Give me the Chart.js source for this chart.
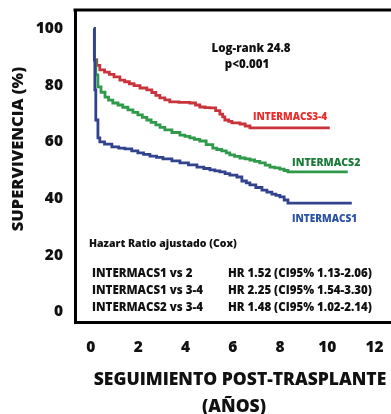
<!DOCTYPE html>
<html><head><meta charset="utf-8">
<script src="https://cdn.jsdelivr.net/npm/chart.js@4.4.0/dist/chart.umd.min.js"></script>
<style>html,body{margin:0;padding:0;background:#fff;overflow:hidden}</style>
</head><body>
<canvas id="c" width="391" height="414"></canvas>
<script>
// ---- data ----
const yearsI34 = [0, 0.02, 0.12, 0.25, 0.45, 0.65, 0.85, 1.10, 1.30, 1.50, 1.70, 1.95, 2.24, 2.45, 2.62, 2.79, 3.00, 3.21, 3.60, 4.06, 4.30, 4.48, 4.70, 4.91, 5.15, 5.33, 5.45, 5.54, 5.70, 5.84, 6.18, 6.40, 6.60, 9.98];
const survI34  = [100, 88.9, 87.0, 85.4, 84.6, 83.8, 82.9, 81.8, 81.2, 80.5, 79.8, 79.0, 78.3, 77.4, 76.4, 75.5, 74.8, 74.1, 73.9, 73.7, 73.0, 72.3, 72.1, 72.0, 71.0, 69.8, 68.8, 67.7, 67.2, 66.7, 66.3, 65.6, 64.9, 64.9];

const yearsI2 = [0, 0.02, 0.08, 0.17, 0.30, 0.47, 0.62, 0.80, 1.02, 1.22, 1.44, 1.65, 1.86, 2.05, 2.24, 2.42, 2.62, 2.80, 3.00, 3.30, 3.64, 3.85, 4.06, 4.25, 4.48, 4.75, 5.03, 5.20, 5.41, 5.60, 5.75, 5.95, 6.18, 6.40, 6.60, 6.80, 7.02, 7.25, 7.45, 7.65, 7.87, 8.05, 8.21, 10.74];
const survI2  = [100, 88.9, 83.6, 79.4, 77.5, 75.8, 74.7, 73.7, 73.0, 72.2, 71.3, 70.4, 69.5, 68.6, 67.7, 66.9, 66.0, 65.1, 64.2, 63.3, 62.4, 61.9, 61.4, 60.9, 60.3, 59.0, 57.8, 57.3, 56.8, 56.1, 55.4, 54.9, 54.3, 54.0, 53.6, 53.1, 52.6, 51.8, 51.1, 50.8, 50.4, 49.9, 49.4, 49.4];

const yearsI1 = [0, 0.02, 0.04, 0.08, 0.17, 0.25, 0.45, 0.76, 1.05, 1.31, 1.60, 1.86, 2.10, 2.37, 2.65, 2.92, 3.30, 3.64, 4.00, 4.36, 4.65, 4.91, 5.12, 5.33, 5.55, 5.75, 6.05, 6.26, 6.45, 6.60, 6.85, 7.11, 7.32, 7.53, 7.70, 7.87, 8.05, 8.21, 10.91];
const survI1  = [100, 88.9, 78.3, 67.7, 61.4, 60.0, 59.2, 58.2, 57.8, 57.5, 56.8, 56.1, 55.6, 55.0, 54.5, 54.0, 53.3, 52.6, 51.9, 51.1, 50.6, 50.1, 49.8, 49.4, 48.8, 48.3, 47.6, 46.2, 45.5, 44.8, 43.9, 43.0, 42.3, 41.6, 41.1, 40.6, 39.5, 38.4, 38.4];

const seriesNames = ['INTERMACS1', 'INTERMACS2', 'INTERMACS3-4'];
const xTicks = [0, 2, 4, 6, 8, 10, 12];
const yTicks = [0, 20, 40, 60, 80, 100];
const logRankText = ['Log-rank 24.8', 'p<0.001'];
const hrTitle = 'Hazart Ratio ajustado (Cox)';
const hrPairs = ['INTERMACS1 vs 2', 'INTERMACS1 vs 3-4', 'INTERMACS2 vs 3-4'];
const hrValues = ['HR 1.52 (CI95% 1.13-2.06)', 'HR 2.25 (CI95% 1.54-3.30)', 'HR 1.48 (CI95% 1.02-2.14)'];
const xTitle = ['SEGUIMIENTO POST-TRASPLANTE', '(AÑOS)'];
const yTitle = 'SUPERVIVENCIA (%)';

// ---- styles ----
const FONT = '"Open Sans", "DejaVu Sans", sans-serif';
const W = '800';
const lineColors = { i1: '#33428f', i2: '#2f9a4a', i34: '#c9343c' };
const labelColors = { i1: '#2c52a3', i2: '#1c7b3a', i34: '#ec2b2b' };

const toPts = (xs, ys) => xs.map((x, i) => ({ x, y: ys[i] }));

const annot = {
  id: 'annot',
  afterDraw(chart) {
    const { ctx, chartArea: a } = chart;
    ctx.save();
    // top frame line
    ctx.strokeStyle = '#000';
    ctx.lineWidth = 3;
    ctx.beginPath();
    ctx.moveTo(a.left - 1.5, a.top);
    ctx.lineTo(chart.width, a.top);
    ctx.stroke();

    ctx.textBaseline = 'middle';
    ctx.fillStyle = '#111';
    // log-rank
    ctx.textAlign = 'center';
    ctx.font = W + ' 11.5px ' + FONT;
    ctx.fillText(logRankText[0], 251, 49);
    ctx.fillText(logRankText[1], 247, 65);

    // series labels
    ctx.textAlign = 'left';
    ctx.font = W + ' 10px ' + FONT;
    ctx.fillStyle = labelColors.i34;
    ctx.fillText(seriesNames[2], 253, 117);
    ctx.font = W + ' 10.5px ' + FONT;
    ctx.fillStyle = labelColors.i2;
    ctx.fillText(seriesNames[1], 292, 163);
    ctx.font = W + ' 10px ' + FONT;
    ctx.fillStyle = labelColors.i1;
    ctx.fillText(seriesNames[0], 292, 219);

    // hazard ratio block
    ctx.fillStyle = '#111';
    ctx.font = W + ' 10.5px ' + FONT;
    ctx.fillText(hrTitle, 89, 244);
    ctx.font = W + ' 11.5px ' + FONT;
    const rowY = [274, 291, 308];
    hrPairs.forEach((p, i) => {
      ctx.fillText(p, 92, rowY[i]);
      ctx.fillText(hrValues[i], 228, rowY[i]);
    });

    // axis titles
    ctx.font = W + ' 17.5px ' + FONT;
    ctx.textAlign = 'center';
    ctx.fillText(xTitle[0], 240, 380);
    ctx.fillText(xTitle[1], 234, 407);
    ctx.font = W + ' 16.5px ' + FONT;
    ctx.save();
    ctx.translate(18, 149);
    ctx.rotate(-Math.PI / 2);
    ctx.fillText(yTitle, 0, 0);
    ctx.restore();
    ctx.restore();
  }
};

new Chart(document.getElementById('c'), {
  type: 'line',
  data: {
    datasets: [
      { label: seriesNames[0], data: toPts(yearsI1, survI1), borderColor: lineColors.i1 },
      { label: seriesNames[1], data: toPts(yearsI2, survI2), borderColor: lineColors.i2 },
      { label: seriesNames[2], data: toPts(yearsI34, survI34), borderColor: lineColors.i34 }
    ].map(d => Object.assign(d, { stepped: true, borderWidth: 2.8, pointRadius: 0, fill: false, tension: 0 }))
  },
  options: {
    responsive: false,
    animation: false,
    devicePixelRatio: 1,
    layout: { padding: { top: 10, left: 0, right: 0, bottom: 0 } },
    plugins: { legend: { display: false }, tooltip: { enabled: false } },
    scales: {
      x: {
        type: 'linear',
        min: -0.80, max: 12.57,
        afterBuildTicks: s => { s.ticks = xTicks.map(v => ({ value: v })); },
        afterFit: s => { s.height = 92; s.paddingLeft = 0; s.paddingRight = 0; },
        grid: { display: false, drawTicks: false },
        border: { display: true, color: '#000', width: 3 },
        ticks: { color: '#111', font: { family: FONT, weight: W, size: 15.5 }, padding: 16, labelOffset: -3, autoSkip: false, maxRotation: 0 }
      },
      y: {
        type: 'linear',
        min: -3.53, max: 106.5,
        afterBuildTicks: s => { s.ticks = yTicks.map(v => ({ value: v })); },
        afterFit: s => { s.width = 75; s.paddingTop = 0; s.paddingBottom = 0; },
        grid: { display: false, drawTicks: false },
        border: { display: true, color: '#000', width: 3 },
        ticks: { color: '#111', font: { family: FONT, weight: W, size: 15.5 }, padding: 12 }
      }
    }
  },
  plugins: [annot]
});
</script>
</body></html>
